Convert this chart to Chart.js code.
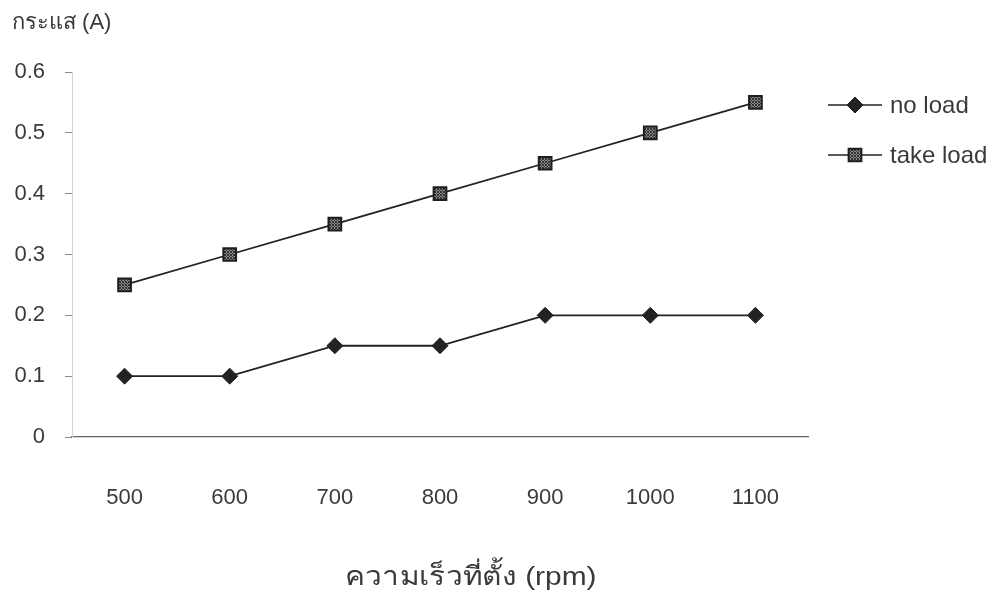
<!DOCTYPE html>
<html>
<head>
<meta charset="utf-8">
<script src="https://cdn.jsdelivr.net/npm/chart.js@4/dist/chart.umd.min.js"></script>
<style>
  html, body { margin: 0; padding: 0; background: #fff; }
  #wrap { width: 1005px; height: 601px; position: relative; }
</style>
</head>
<body>
<div id="wrap"><canvas id="c" width="1005" height="601"></canvas></div>
<script>
// Set speed (rpm) on the x axis, current (A) on the y axis
const speeds = ['500', '600', '700', '800', '900', '1000', '1100'];
const noLoad = [0.1, 0.1, 0.15, 0.15, 0.2, 0.2, 0.2];
const takeLoad = [0.25, 0.3, 0.35, 0.4, 0.45, 0.5, 0.55];
const yTickValues = [0, 0.1, 0.2, 0.3, 0.4, 0.5, 0.6];
const yTitle = 'กระแส (A)';
const xTitle = 'ความเร็วที่ตั้ง (rpm)';

const FONT = '"Liberation Sans", Arial, "Noto Sans", sans-serif';
const TEXT = '#3a3a3a';
const INK = '#222';

// Checkered grey fill for the square markers
function makePattern() {
  const p = document.createElement('canvas');
  p.width = 3; p.height = 3;
  const g = p.getContext('2d');
  g.fillStyle = '#8a8a8a'; g.fillRect(0, 0, 3, 3);
  g.fillStyle = '#333';
  g.fillRect(0, 0, 1, 1); g.fillRect(2, 0, 1, 1);
  g.fillRect(1, 1, 1, 1); g.fillRect(0, 2, 1, 1); g.fillRect(2, 2, 1, 1);
  return g.createPattern(p, 'repeat');
}
const squareFill = makePattern();

// Axis titles and the side legend
const annotations = {
  id: 'annotations',
  afterDraw(chart) {
    const ctx = chart.ctx;
    ctx.save();
    ctx.fillStyle = TEXT;
    ctx.textBaseline = 'middle';
    ctx.textAlign = 'left';
    ctx.font = '22px ' + FONT;
    ctx.fillText(yTitle, 12, 23);

    // x-axis title, set slightly wide
    ctx.save();
    ctx.translate(471, 578);
    ctx.scale(1.15, 1);
    ctx.textAlign = 'center';
    ctx.font = '26px ' + FONT;
    ctx.fillText(xTitle, 0, 0);
    ctx.restore();

    ctx.font = '24px ' + FONT;
    ctx.textAlign = 'left';
    chart.data.datasets.forEach((ds, i) => {
      const y = 105 + 50 * i;
      ctx.strokeStyle = INK;
      ctx.lineWidth = 1.6;
      ctx.beginPath();
      ctx.moveTo(828, y);
      ctx.lineTo(882, y);
      ctx.stroke();
      ctx.fillStyle = ds.pointBackgroundColor;
      ctx.strokeStyle = ds.pointBorderColor;
      ctx.lineWidth = ds.pointBorderWidth;
      Chart.helpers.drawPoint(ctx, { pointStyle: ds.pointStyle, radius: ds.pointRadius, borderWidth: ds.pointBorderWidth }, 855, y);
      ctx.fillStyle = TEXT;
      ctx.fillText(ds.label, 890, y + 1);
    });
    ctx.restore();
  }
};

new Chart(document.getElementById('c'), {
  type: 'line',
  data: {
    labels: speeds,
    datasets: [
      {
        label: 'no load',
        data: noLoad,
        borderColor: INK,
        borderWidth: 1.8,
        pointStyle: 'rectRot',
        pointRadius: 8,
        pointBackgroundColor: INK,
        pointBorderColor: INK,
        pointBorderWidth: 1,
        tension: 0
      },
      {
        label: 'take load',
        data: takeLoad,
        borderColor: INK,
        borderWidth: 1.8,
        pointStyle: 'rect',
        pointRadius: 9,
        pointBackgroundColor: squareFill,
        pointBorderColor: '#1e1e1e',
        pointBorderWidth: 2,
        tension: 0
      }
    ]
  },
  options: {
    responsive: false,
    animation: false,
    layout: { padding: { left: 0, right: 197, top: 72, bottom: 0 } },
    plugins: {
      legend: { display: false },
      tooltip: { enabled: false }
    },
    scales: {
      x: {
        offset: true,
        grid: { display: false },
        border: { display: true, color: '#666', width: 1.2 },
        ticks: {
          color: TEXT,
          font: { family: FONT, size: 22 },
          padding: 40,
          maxRotation: 0
        },
        afterFit(s) { s.height = 164; }
      },
      y: {
        min: 0,
        max: 0.6,
        afterBuildTicks(s) { s.ticks = yTickValues.map(v => ({ value: v })); },
        grid: {
          drawOnChartArea: false,
          drawTicks: true,
          tickLength: 7,
          color: '#888',
          tickColor: '#888'
        },
        border: { display: true, color: '#d4d4d4', dash: [2, 5], width: 1 },
        ticks: {
          color: TEXT,
          font: { family: FONT, size: 22 },
          padding: 20,
          callback: v => String(Number(v.toFixed(1)))
        },
        afterFit(s) { s.width = 72; }
      }
    }
  },
  plugins: [annotations]
});
</script>
</body>
</html>
